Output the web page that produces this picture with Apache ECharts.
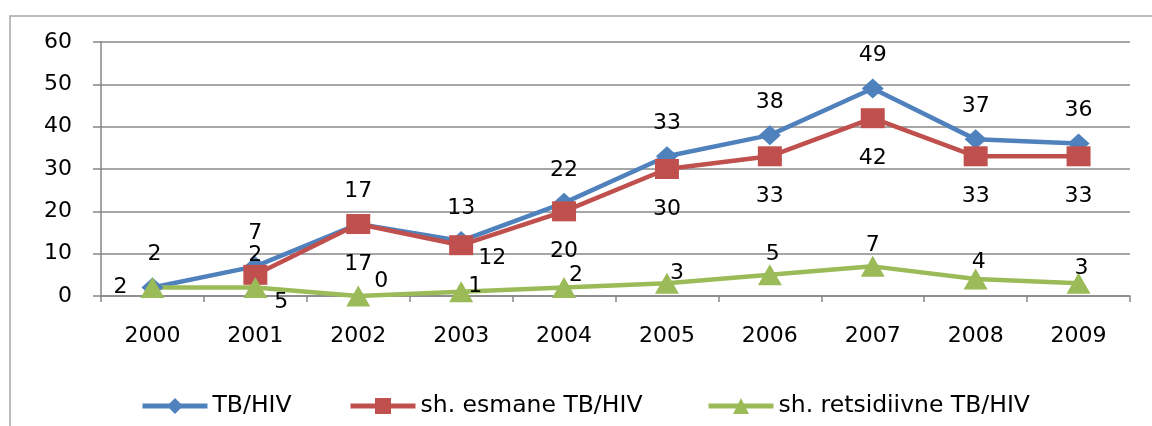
<!DOCTYPE html>
<html>
<head>
<meta charset="utf-8">
<script src="https://cdn.jsdelivr.net/npm/echarts@6/dist/echarts.min.js"></script>
<style>html,body{margin:0;padding:0;background:#fff}#c{width:1152px;height:426px}</style>
</head>
<body>
<div id="c"></div>
<script>
const categories = ['2000','2001','2002','2003','2004','2005','2006','2007','2008','2009'];
const tbHiv = [2, 7, 17, 13, 22, 33, 38, 49, 37, 36];
const esmane = [null, 5, 17, 12, 20, 30, 33, 42, 33, 33];
const retsidiivne = [2, 2, 0, 1, 2, 3, 5, 7, 4, 3];
const seriesNames = ['TB/HIV', 'sh. esmane TB/HIV', 'sh. retsidiivne TB/HIV'];
const yTicks = { min: 0, max: 60, interval: 10 };

// label placement (style, not data)
const blueLabel = {0: {position: 'left', distance: 14}};
const redLabel = {1: {position: 'inside', offset: [26, 27]}, 3: {position: 'inside', offset: [31, 13]}};
const greenOffsets = [[2,-33],[0,-32],[23,-15],[14,-5],[12,-12],[10,-10],[3,-21],[0,-21],[3,-17],[3,-15]];

const FONT = 'DejaVu Sans';
const blue = '#4F81BD', red = '#C0504D', green = '#9BBB59';

function build(values, overrides) {
  return values.map((v, i) => overrides[i] ? {value: v, label: overrides[i]} : v);
}
const greenData = retsidiivne.map((v, i) => ({value: v, label: {position: 'inside', offset: greenOffsets[i]}}));

const chart = echarts.init(document.getElementById('c'), null, {renderer: 'canvas'});
const lblStyle = {show: true, color: '#000', fontFamily: FONT, fontSize: 22};
const legendBase = {
  top: 389, itemWidth: 65, itemHeight: 20, itemGap: 40,
  lineStyle: {width: 5},
  textStyle: {fontFamily: FONT, fontSize: 23.5, color: '#000'},
  selectedMode: false
};
chart.setOption({
  animation: false,
  backgroundColor: '#fff',
  graphic: [{
    type: 'rect', shape: {x: 10, y: 16, width: 1200, height: 500},
    style: {fill: 'none', stroke: '#a6a6a6', lineWidth: 1.5}, z: -1
  }],
  legend: [
    Object.assign({left: 135, data: [seriesNames[0]]}, legendBase),
    Object.assign({left: 343, data: [seriesNames[1]]}, legendBase),
    Object.assign({left: 701, data: [seriesNames[2]]}, legendBase)
  ],
  grid: {left: 101, top: 42, right: 22, bottom: 130},
  xAxis: {
    type: 'category', data: categories, boundaryGap: true,
    axisLine: {lineStyle: {color: '#868686', width: 1.5}},
    axisTick: {show: true, length: 6, lineStyle: {color: '#868686', width: 1.5}, alignWithLabel: false},
    axisLabel: {margin: 29, color: '#000', fontFamily: FONT, fontSize: 22}
  },
  yAxis: {
    type: 'value', min: yTicks.min, max: yTicks.max, interval: yTicks.interval,
    axisLine: {show: true, lineStyle: {color: '#868686', width: 1.5}},
    axisTick: {show: true, inside: false, length: 8, lineStyle: {color: '#868686', width: 1.5}},
    axisLabel: {margin: 29, color: '#000', fontFamily: FONT, fontSize: 22},
    splitLine: {show: true, lineStyle: {color: '#898989', width: 1.5}}
  },
  series: [
    {
      name: seriesNames[0], type: 'line', data: build(tbHiv, blueLabel),
      symbol: 'diamond', symbolSize: [22, 20],
      lineStyle: {color: blue, width: 4.5}, itemStyle: {color: blue},
      label: Object.assign({position: 'top', distance: 12}, lblStyle)
    },
    {
      name: seriesNames[1], type: 'line', data: build(esmane, redLabel),
      symbol: 'rect', symbolSize: [24, 20],
      lineStyle: {color: red, width: 4.5}, itemStyle: {color: red},
      label: Object.assign({position: 'bottom', distance: 19}, lblStyle)
    },
    {
      name: seriesNames[2], type: 'line', data: greenData,
      symbol: 'triangle', symbolSize: [24, 21],
      lineStyle: {color: green, width: 4.5}, itemStyle: {color: green},
      label: Object.assign({position: 'inside'}, lblStyle)
    }
  ]
});
</script>
</body>
</html>
